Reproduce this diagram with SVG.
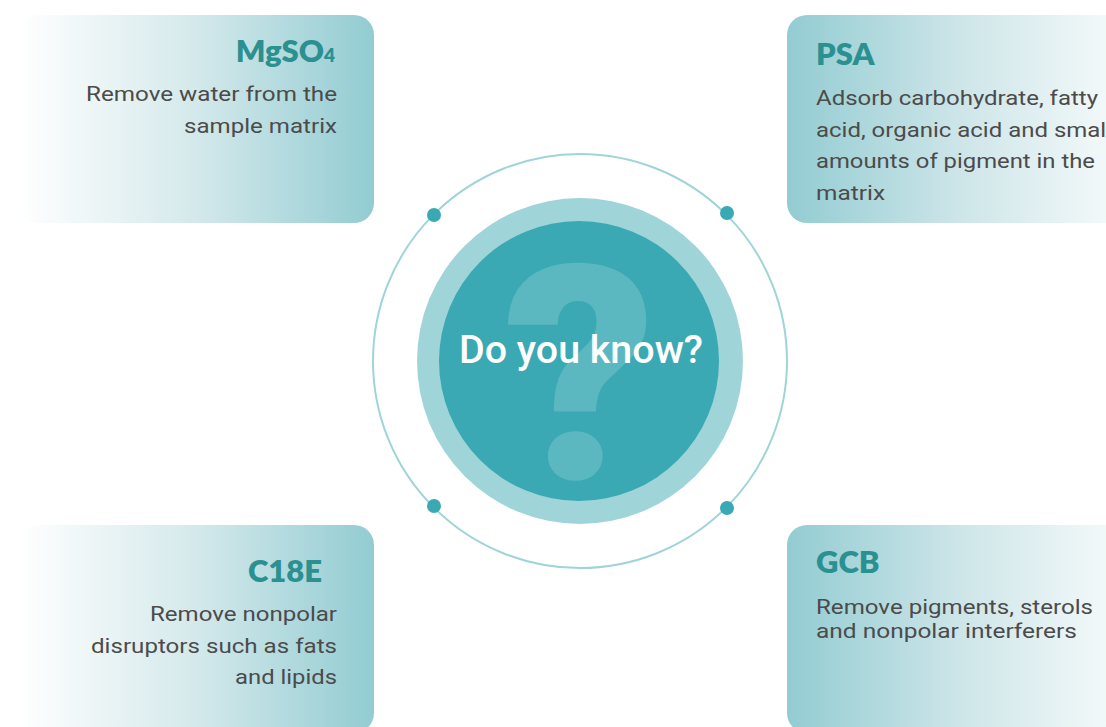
<svg xmlns="http://www.w3.org/2000/svg" width="1106" height="727" viewBox="0 0 1106 727">
  <defs>
    <linearGradient id="fadeRight" gradientUnits="objectBoundingBox" x1="0" y1="0" x2="1" y2="0">
      <stop offset="0" stop-color="#ffffff"/>
      <stop offset="0.5" stop-color="#d4e9eb"/>
      <stop offset="1" stop-color="#92ccd2"/>
    </linearGradient>
    <linearGradient id="fadeLeft" gradientUnits="objectBoundingBox" x1="0" y1="0" x2="1" y2="0">
      <stop offset="0" stop-color="#92ccd2"/>
      <stop offset="0.5" stop-color="#cfe6e9"/>
      <stop offset="1" stop-color="#fbfdfd"/>
    </linearGradient>
    <style>
      .title { font-family: "Lato", "Inter", "Liberation Sans", sans-serif; font-weight: 800; font-size: 31px; fill: #2b9090; }
      .body { font-family: "Roboto", "Liberation Sans", sans-serif; font-size: 21px; fill: #4b4b4b; }
      .center-label { font-family: "Roboto", "Liberation Sans", sans-serif; font-weight: 500; font-size: 38px; fill: #ffffff; }
      .qmark { font-family: "Roboto", "DejaVu Sans", sans-serif; font-weight: 900; fill: #5cb8c0; }
    </style>
  </defs>

  <rect width="1106" height="727" fill="#ffffff"/>

  <!-- outer ring with four markers -->
  <g id="connectors">
    <circle cx="580" cy="361" r="207" fill="none" stroke="#9fd4d9" stroke-width="2"/>
    <circle cx="434" cy="215" r="7" fill="#3aa9b4"/>
    <circle cx="727" cy="213" r="7" fill="#3aa9b4"/>
    <circle cx="434" cy="506" r="7" fill="#3aa9b4"/>
    <circle cx="727" cy="508" r="7" fill="#3aa9b4"/>
  </g>

  <!-- central badge -->
  <g id="center">
    <circle cx="580" cy="361" r="163" fill="#9fd4d9"/>
    <circle cx="579" cy="361" r="140" fill="#3aa9b4"/>
    <text class="qmark" x="580" y="479" font-size="300" text-anchor="middle">?</text>
    <text class="center-label" x="459" y="363" textLength="244" lengthAdjust="spacingAndGlyphs">Do you know?</text>
  </g>

  <!-- MgSO4 card -->
  <g id="card-mgso4">
    <rect x="18" y="15" width="356" height="208" rx="20" fill="url(#fadeRight)"/>
    <text class="title" x="335" y="62" text-anchor="end">MgSO<tspan font-size="19">4</tspan></text>
    <text class="body" x="337" y="101" text-anchor="end" textLength="251" lengthAdjust="spacingAndGlyphs">Remove water from the</text>
    <text class="body" x="337" y="133" text-anchor="end" textLength="153" lengthAdjust="spacingAndGlyphs">sample matrix</text>
  </g>

  <!-- PSA card -->
  <g id="card-psa">
    <rect x="787" y="15" width="356" height="208" rx="20" fill="url(#fadeLeft)"/>
    <text class="title" x="816" y="65">PSA</text>
    <text class="body" x="816" y="105" textLength="282" lengthAdjust="spacingAndGlyphs">Adsorb carbohydrate, fatty</text>
    <text class="body" x="816" y="137" textLength="296" lengthAdjust="spacingAndGlyphs">acid, organic acid and small</text>
    <text class="body" x="816" y="168" textLength="279" lengthAdjust="spacingAndGlyphs">amounts of pigment in the</text>
    <text class="body" x="816" y="200" textLength="69" lengthAdjust="spacingAndGlyphs">matrix</text>
  </g>

  <!-- C18E card -->
  <g id="card-c18e">
    <rect x="18" y="525" width="356" height="208" rx="20" fill="url(#fadeRight)"/>
    <text class="title" x="248" y="582">C18E</text>
    <text class="body" x="337" y="621" text-anchor="end" textLength="187" lengthAdjust="spacingAndGlyphs">Remove nonpolar</text>
    <text class="body" x="337" y="653" text-anchor="end" textLength="246" lengthAdjust="spacingAndGlyphs">disruptors such as fats</text>
    <text class="body" x="337" y="684" text-anchor="end" textLength="102" lengthAdjust="spacingAndGlyphs">and lipids</text>
  </g>

  <!-- GCB card -->
  <g id="card-gcb">
    <rect x="787" y="525" width="356" height="208" rx="20" fill="url(#fadeLeft)"/>
    <text class="title" x="816" y="573">GCB</text>
    <text class="body" x="816" y="614" textLength="277" lengthAdjust="spacingAndGlyphs">Remove pigments, sterols</text>
    <text class="body" x="816" y="638" textLength="261" lengthAdjust="spacingAndGlyphs">and nonpolar interferers</text>
  </g>
</svg>
